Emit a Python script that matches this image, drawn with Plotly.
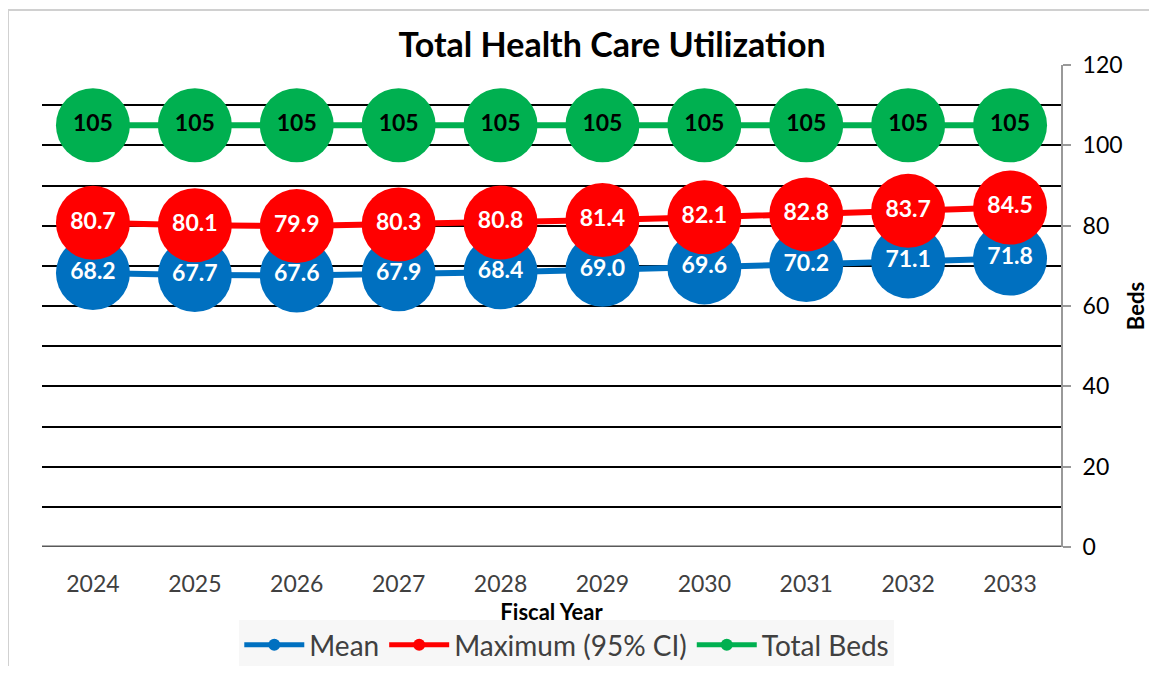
import plotly.graph_objects as go

years = ["2024", "2025", "2026", "2027", "2028", "2029", "2030", "2031", "2032", "2033"]
mean_vals = [68.2, 67.7, 67.6, 67.9, 68.4, 69.0, 69.6, 70.2, 71.1, 71.8]
max_vals = [80.7, 80.1, 79.9, 80.3, 80.8, 81.4, 82.1, 82.8, 83.7, 84.5]
total_beds = [105, 105, 105, 105, 105, 105, 105, 105, 105, 105]
y_ticks = [0, 20, 40, 60, 80, 100, 120]

FONT = "Lato"
fig = go.Figure()

def add(name, vals, color, textcolor, tmpl):
    fig.add_trace(go.Scatter(
        x=years, y=vals, name=name, mode="lines+markers+text",
        line=dict(color=color, width=6),
        marker=dict(color=color, size=74),
        text=vals, texttemplate=tmpl, textposition="middle center",
        textfont=dict(family=FONT, size=23, color=textcolor, weight="bold"),
        cliponaxis=False, yaxis="y",
    ))

add("Mean", mean_vals, "#0070C0", "white", "%{y:.1f}")
add("Maximum (95% CI)", max_vals, "#FF0000", "white", "%{y:.1f}")
add("Total Beds", total_beds, "#00B050", "black", "%{y}")

fig.update_layout(
    width=1141, height=658,
    margin=dict(l=34, r=88, t=57, b=119, autoexpand=False),
    paper_bgcolor="white", plot_bgcolor="white",
    font=dict(family=FONT, color="#000000"),
    title=dict(text="<b>Total Health Care Utilization</b>", x=0.5294, xanchor="center",
               y=0.9438, yanchor="middle", font=dict(family=FONT, size=34, color="black")),
    showlegend=True,
    legend=dict(orientation="h", x=0.515, xanchor="center", y=-0.1515, yanchor="top",
                bgcolor="#F7F7F7", font=dict(family=FONT, size=28, color="#404040"),
                itemsizing="constant", traceorder="normal", itemwidth=60),
    xaxis=dict(type="category", range=[-0.5, 9.5], showgrid=False, automargin=False,
               tickfont=dict(family=FONT, size=23, color="#404040"),
               ticks="", showline=False, zeroline=False, ticklabelstandoff=21,
               title=dict(text="<b>Fiscal Year</b>", font=dict(family=FONT, size=22, color="black"), standoff=8)),
    yaxis=dict(range=[0, 120], side="right", tickvals=y_ticks, automargin=False,
               showgrid=True, gridcolor="black", gridwidth=2,
               minor=dict(dtick=10, showgrid=True, gridcolor="black", gridwidth=2, ticks=""),
               showline=True, linecolor="#999999", linewidth=2,
               ticks="outside", ticklen=8, tickcolor="#999999", tickwidth=2,
               ticklabelstandoff=7,
               tickfont=dict(family=FONT, size=23, color="black"), zeroline=False,
               title=dict(text="<b>Beds</b>", font=dict(family=FONT, size=22, color="black"), standoff=11)),
    shapes=[
        dict(type="line", xref="paper", yref="y", x0=0, x1=1, y0=0, y1=0,
             line=dict(color="#595959", width=3), layer="above"),
        dict(type="rect", xref="paper", yref="paper", x0=-0.0334, x1=1.3, y0=-0.5, y1=1.114,
             line=dict(color="#D0D0D0", width=2), layer="below"),
    ],
)

fig.write_html("out.html")
